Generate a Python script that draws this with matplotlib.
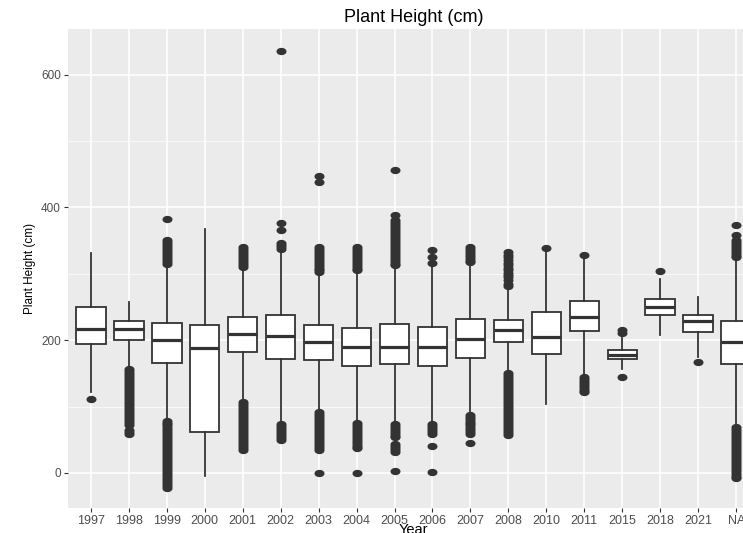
import matplotlib
matplotlib.use("Agg")
import matplotlib.pyplot as plt
from matplotlib.path import Path
import numpy as np

years = ["1997", "1998", "1999", "2000", "2001", "2002", "2003", "2004", "2005",
         "2006", "2007", "2008", "2010", "2011", "2015", "2018", "2021", "NA"]
q1 = [194.5, 200, 166.3, 61.8, 182.4, 171.4, 169.9, 160.8, 164.3,
      161.8, 173.9, 198, 179.4, 213.1, 171.4, 238.7, 211.6, 164.3]
median = [216.6, 217.6, 200, 187.5, 208.6, 206.5, 197.5, 189.5, 189.5,
          189.5, 201.5, 216.1, 205, 234.2, 178.4, 250.3, 229.2, 197.5]
q3 = [249.3, 228.7, 226.1, 222.6, 234.2, 238.7, 223.6, 218.6, 224.6,
      220.1, 231.7, 230.2, 242.7, 258.8, 184.9, 261.8, 238.7, 229.2]
whisker_low = [122, 158, 81, -5, 109, 75, 93, 77, 76,
               77, 90, 152, 103.5, 148, 157.3, 207.5, 175, 71]
whisker_high = [331.7, 257.8, 311, 366.9, 308, 336, 301, 302, 311,
                311, 316, 278, 337, 326, 204, 291.5, 265.3, 323]
outliers = [
    [112],
    [156, 153, 150, 147, 144, 141, 138, 135, 132, 129, 126, 123, 120, 117, 114,
     111, 108, 105, 102, 99, 96, 93, 90, 87, 84, 81, 78, 75, 72, 64, 61, 58],
    [382, 351, 348, 345, 342, 339, 336, 333, 330, 327, 324, 321, 318, 315,
     79, 76, 73, 70, 67, 64, 61, 58, 55, 52, 49, 46, 43, 40, 37, 34, 31, 28, 25,
     22, 19, 16, 13, 10, 7, 4, 1, -2, -5, -8, -11, -14, -17, -20, -22],
    [],
    [341, 338, 335, 332, 329, 326, 323, 320, 317, 314, 311,
     107, 104, 101, 98, 95, 92, 89, 86, 83, 80, 77, 74, 71, 68, 65, 62, 59, 56,
     53, 50, 47, 44, 41, 38, 35],
    [636, 377, 366, 346, 343, 340, 338, 73, 70, 67, 64, 61, 58, 55, 52, 49],
    [448, 438, 341, 338, 335, 332, 329, 326, 323, 320, 317, 314, 311, 308, 305,
     303, 92, 89, 86, 83, 80, 77, 74, 71, 68, 65, 62, 59, 56, 53, 50, 47, 44,
     41, 38, 34, 0],
    [341, 338, 335, 332, 329, 326, 323, 320, 317, 314, 311, 308, 305,
     75, 72, 69, 66, 63, 60, 57, 54, 51, 48, 45, 42, 39, 37, 0],
    [457, 388, 381, 378, 375, 372, 369, 366, 363, 360, 357, 354, 351, 348, 345,
     342, 339, 336, 333, 330, 327, 324, 321, 318, 315, 313,
     74, 71, 68, 65, 62, 59, 56, 54, 44, 41, 38, 35, 32, 2.5],
    [336, 325, 317, 74, 71, 68, 65, 62, 59, 41, 1],
    [341, 338, 335, 332, 329, 326, 323, 320, 318,
     88, 85, 82, 79, 76, 73, 70, 67, 64, 61, 58, 45],
    [333, 329, 325, 321, 317, 313, 309, 305, 301, 298, 295, 290, 285, 281,
     150, 147, 144, 141, 138, 135, 132, 129, 126, 123, 120, 117, 114, 111, 108,
     105, 102, 99, 96, 93, 90, 87, 84, 81, 78, 75, 72, 69, 66, 63, 60, 57],
    [339],
    [328, 145, 142, 139, 136, 133, 130, 127, 124, 122],
    [215, 211, 145],
    [304],
    [167],
    [373, 358, 351, 348, 345, 342, 339, 336, 333, 330, 327, 326,
     69, 66, 63, 60, 57, 54, 51, 48, 45, 42, 39, 36, 33, 30, 27, 24, 21, 18,
     15, 12, 9, 6, 3, 0, -3, -6, -8],
]

W, H = 743, 533
fig = plt.figure(figsize=(W / 100, H / 100), dpi=100)
left, right, top, bottom = 68, 759, 29, 508
ax = fig.add_axes([left / W, 1 - bottom / H, (right - left) / W, (bottom - top) / H])
ax.set_facecolor("#EBEBEB")
for s in ax.spines.values():
    s.set_visible(False)

stats = []
for i, lab in enumerate(years):
    stats.append(dict(label=lab, q1=q1[i], med=median[i], q3=q3[i],
                      whislo=whisker_low[i], whishi=whisker_high[i],
                      fliers=np.array(outliers[i], dtype=float)))

circ = Path.unit_circle()
ell = Path(circ.vertices * np.array([1.0, 0.68]), circ.codes)
dark = "#333333"
ax.bxp(stats, positions=np.arange(len(years)), widths=0.78, patch_artist=True,
       showcaps=False,
       boxprops=dict(facecolor="white", edgecolor=dark, linewidth=1.3),
       medianprops=dict(color=dark, linewidth=2.3),
       whiskerprops=dict(color=dark, linewidth=1.3),
       flierprops=dict(marker=ell, markerfacecolor=dark, markeredgecolor=dark,
                       markersize=6.2, linestyle="none"),
       zorder=3)

ax.set_xlim(-0.6, len(years) - 0.4)
ax.set_ylim(-52.8, 668.8)
ax.set_yticks([0, 200, 400, 600])
ax.set_yticks([100, 300, 500], minor=True)
ax.set_xticks(np.arange(len(years)))
ax.set_xticklabels(years)
ax.grid(True, which="major", color="white", linewidth=1.1, zorder=0)
ax.grid(True, which="minor", axis="y", color="white", linewidth=0.5, zorder=0)
ax.set_axisbelow(True)
ax.tick_params(axis="both", which="major", length=3, width=0.8, color=dark,
               labelcolor="#4D4D4D", pad=2)
ax.tick_params(axis="both", which="minor", length=0)
for t in ax.get_xticklabels():
    t.set_fontfamily("Liberation Sans")
    t.set_fontsize(9)
for t in ax.get_yticklabels():
    t.set_fontfamily("Liberation Sans")
    t.set_fontsize(8.5)

ax.set_title("Plant Height (cm)", fontfamily="Liberation Sans", fontsize=13,
             color="black", pad=5)
ax.set_ylabel("Plant Height (cm)", fontfamily="Liberation Sans", fontsize=8.5,
              color="black", labelpad=4)
ax.set_xlabel("Year", fontfamily="Liberation Sans", fontsize=10.5, color="black",
              labelpad=-2.5)

fig.savefig("out.png", dpi=100, facecolor="white")
